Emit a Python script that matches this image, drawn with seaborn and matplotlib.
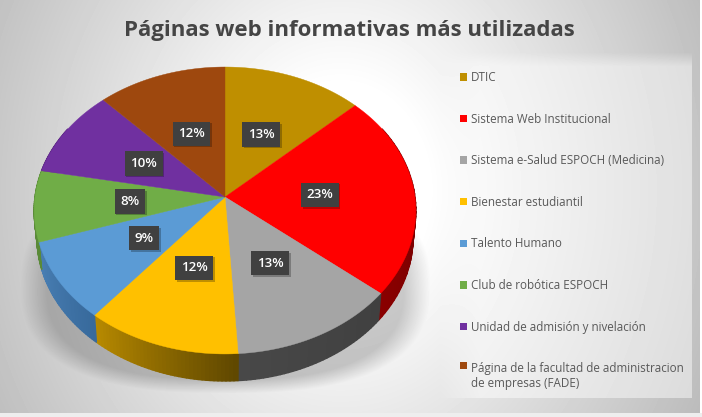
import numpy as np
import pandas as pd
import matplotlib
matplotlib.use("Agg")
import matplotlib.pyplot as plt
import matplotlib.patheffects as pe
from matplotlib.patches import Patch
from matplotlib.collections import PolyCollection
from matplotlib.colors import to_rgb
import seaborn as sns

# Survey shares
categories = [
    "DTIC",
    "Sistema Web Institucional",
    "Sistema e-Salud ESPOCH (Medicina)",
    "Bienestar estudiantil",
    "Talento Humano",
    "Club de robótica ESPOCH",
    "Unidad de admisión y nivelación",
    "Página de la facultad de administracion\nde empresas (FADE)",
]
shares = [13, 23, 13, 12, 9, 8, 10, 12]
top_colors = ["#BF8F00", "#FF0000", "#A5A5A5", "#FFC000",
              "#5B9BD5", "#70AD47", "#7030A0", "#9E480E"]
side_start = ["#7A5C00", "#8A0000", "#484848", "#B88A00",
              "#4A80B5", "#5A8A38", "#5A2680", "#7A380A"]
side_end = ["#7A5C00", "#6A0000", "#404040", "#604800",
            "#386A9C", "#5A8A38", "#5A2680", "#7A380A"]
title_text = "Páginas web informativas más utilizadas"

W, H = 702, 417
sns.set_theme(style="white")
plt.rcParams["font.family"] = ["Open Sans", "DejaVu Sans"]
palette = sns.color_palette(top_colors)

df = pd.DataFrame({"category": categories, "share": shares})
df["start"] = df["share"].cumsum().shift(fill_value=0) / df["share"].sum() * 2 * np.pi
df["end"] = df["share"].cumsum() / df["share"].sum() * 2 * np.pi

# Tilted disc: perspective projection of the unit circle to figure pixels
CX, CY, RX, RY, PERSP = 225.0, 197.0, 190.0, 142.2, 0.094
DEPTH, LOWER_SCALE = 27.0, 0.985


def project(theta, r=1.0):
    u, v = r * np.sin(theta), -r * np.cos(theta)
    d = 1 - PERSP * v
    return CX + RX * u / d, CY + RY * v / d


fig = plt.figure(figsize=(W / 100, H / 100), dpi=100)
ax = fig.add_axes([0, 0, 1, 1])

# Backdrop: radial gradient, lighter legend panel, soft cast shadow, thin white border
yy, xx = np.mgrid[0:H, 0:W]
dist = np.hypot((xx - 340) / 350, (yy - 190) / 420)
bg = 1.0 - 0.22 * np.clip(dist - 0.25, 0, None) / 0.75

panel = (np.clip((xx - 440) / 40, 0, 1) * np.clip(692 - xx, 0, 1)
         * np.clip((yy - 52) / 14, 0, 1) * np.clip(398 - yy, 0, 1))
bg = bg * (1 - panel) + (1 - (1 - bg) * 0.55) * panel

shadow_d = ((np.abs(xx - 225) / 205) ** 2.6 + (np.abs(yy - 285) / 108) ** 2.6) ** (1 / 2.6)
shadow = np.clip((1.0 - shadow_d) / 0.13, 0, 1) * 0.2
bg = bg * (1 - shadow)

bg[:, 700:] = 1.0
bg[413:, :] = 0.93
ax.imshow(bg, cmap="gray", vmin=0, vmax=1, extent=(0, W, H, 0),
          aspect="auto", interpolation="bilinear", zorder=0)

# Rim of the disc, drawn as narrow strips so each slice can shade across its arc
for row, c0, c1 in zip(df.itertuples(), side_start, side_end):
    lo, hi = max(row.start, np.pi / 3), min(row.end, 5 * np.pi / 3)
    if hi <= lo:
        continue
    steps = np.linspace(hi, lo, 40)
    polys, colors = [], []
    rgb0, rgb1 = np.array(to_rgb(c0)), np.array(to_rgb(c1))
    for i in range(len(steps) - 1):
        xa, ya = project(steps[i])
        xb, yb = project(steps[i + 1])
        xa2 = CX + (xa - CX) * LOWER_SCALE
        xb2 = CX + (xb - CX) * LOWER_SCALE
        polys.append([(xa, ya), (xb, yb), (xb2, yb + DEPTH), (xa2, ya + DEPTH)])
        colors.append(rgb0 + (rgb1 - rgb0) * i / (len(steps) - 2))
    ax.add_collection(PolyCollection(polys, facecolors=colors, edgecolors=colors,
                                     linewidths=1.0, zorder=2))

# Top face of each slice
for row, color in zip(df.itertuples(), palette):
    t = np.linspace(row.start, row.end, 80)
    px, py = project(t)
    ax.fill(np.r_[CX, px], np.r_[CY, py], color=color, lw=0.3, zorder=3)

# Percentage labels at mid-radius
for row in df.itertuples():
    lx, ly = project((row.start + row.end) / 2, 0.5)
    txt = ax.text(lx, ly, f"{row.share}%", color="white", fontsize=9.6, fontweight="semibold",
                  ha="center", va="center", zorder=6,
                  bbox=dict(boxstyle="square,pad=0.42", fc="#404040", ec="none"))
    txt.get_bbox_patch().set_path_effects(
        [pe.withSimplePatchShadow(offset=(1.2, -1.2), shadow_rgbFace="#000000", alpha=0.25)])

ax.text(349.5, 30, title_text, color="#454545", fontsize=16.0, fontweight="bold",
        ha="center", va="center", zorder=6)

# Legend
handles = [Patch(facecolor=c, edgecolor="none", label=n) for c, n in zip(palette, categories)]
FS = 8.4
leg = ax.legend(handles=handles, loc="upper left", bbox_to_anchor=(460, 71),
                bbox_transform=ax.transData, frameon=False, fontsize=FS,
                labelcolor="#595959", borderpad=0, borderaxespad=0,
                labelspacing=2.45, handlelength=0.6, handleheight=0.6,
                handletextpad=0.36)
for t in leg.get_texts():
    t.set_linespacing(1.18)
last = leg.legend_handles[-1]
last.set_y(last.get_y() + 8)

ax.set_xlim(0, W)
ax.set_ylim(H, 0)
ax.axis("off")
fig.savefig("out.png", dpi=100)
